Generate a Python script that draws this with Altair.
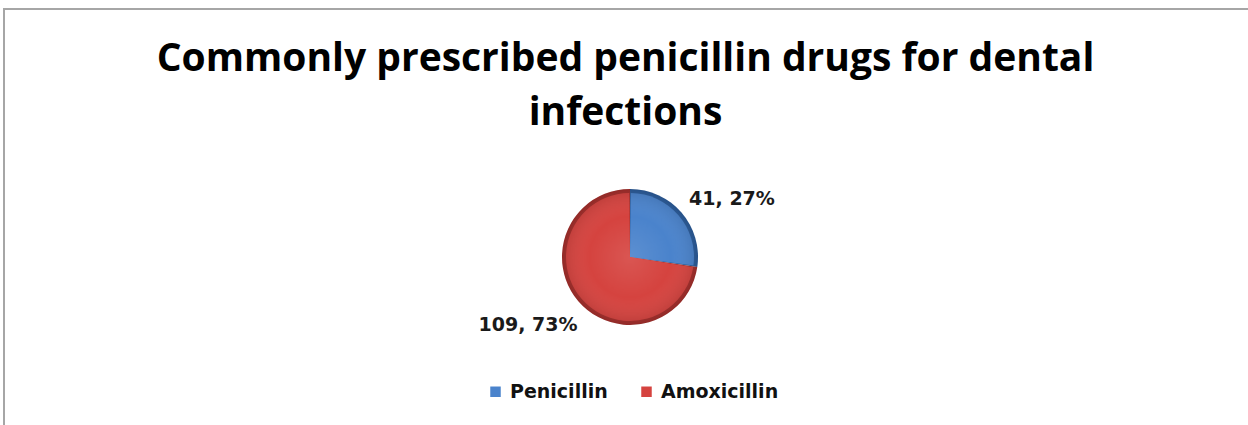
import altair as alt
import pandas as pd

# Prescription counts per drug
drugs = ["Penicillin", "Amoxicillin"]
counts = [41, 109]

face_colors = ["#4a83cc", "#d5433f"]
edge_colors = ["#2c5d9c", "#a62f2c"]

df = pd.DataFrame({"drug": drugs, "count": counts, "rank": list(range(len(drugs)))})

TEXT_FONT = "DejaVu Sans"
TITLE_FONT = "Open Sans"

# centre of the pie inside the plot area
CX, CY = 627, 249

base = alt.Chart(df).encode(
    theta=alt.Theta("count:Q", stack=True),
    order=alt.Order("rank:Q"),
    x=alt.value(CX),
    y=alt.value(CY),
)

# darker rim underneath gives the slices a bevelled edge
rim = base.mark_arc(outerRadius=68).encode(
    color=alt.Color("drug:N", scale=alt.Scale(domain=drugs, range=edge_colors), legend=None)
)

face = base.mark_arc(outerRadius=64, padAngle=0.025).encode(
    color=alt.Color(
        "drug:N",
        scale=alt.Scale(domain=drugs, range=face_colors),
        legend=alt.Legend(
            title=None,
            orient="none",
            direction="horizontal",
            legendX=483,
            legendY=374,
            symbolType="square",
            symbolSize=110,
            symbolStrokeWidth=0,
            labelFont=TEXT_FONT,
            labelFontSize=19,
            labelFontWeight="bold",
            labelColor="#111111",
            labelOffset=5,
            columnPadding=29,
        ),
    )
)

# soft radial shading over the whole disc for a rounded look
shade = (
    alt.Chart(df)
    .transform_aggregate(total="sum(count)")
    .mark_arc(
        outerRadius=68,
        fill=alt.Gradient(
            gradient="radial",
            x1=0.5, y1=0.5, r1=0,
            x2=0.5, y2=0.5, r2=0.5,
            stops=[
                alt.GradientStop(color="rgba(255,255,255,0.10)", offset=0),
                alt.GradientStop(color="rgba(255,255,255,0)", offset=0.6),
                alt.GradientStop(color="rgba(0,0,0,0.12)", offset=1),
            ],
        ),
    )
    .encode(theta=alt.value(6.2832), x=alt.value(CX), y=alt.value(CY))
)

labels = (
    base.transform_joinaggregate(total="sum(count)")
    .transform_calculate(label="datum.count + ', ' + format(datum.count / datum.total, '.0%')")
    .mark_text(
        radius=120,
        thetaOffset=0.157,
        dy=5,
        font=TEXT_FONT,
        fontSize=19,
        fontWeight="bold",
        color="#1a1a1a",
    )
    .encode(text="label:N")
)

# thin grey frame along the top and left edges
frame_top = alt.Chart(df).mark_rule(color="#a6a6a6", strokeWidth=2).encode(
    x=alt.value(0), x2=alt.value(1245), y=alt.value(1)
)
frame_left = alt.Chart(df).mark_rule(color="#a6a6a6", strokeWidth=2).encode(
    x=alt.value(1), y=alt.value(0), y2=alt.value(417)
)

chart = (
    alt.layer(frame_top, frame_left, rim, face, shade, labels)
    .resolve_scale(color="independent")
    .properties(
        width=1245,
        height=417,
        padding={"left": 3, "top": 8, "right": 0, "bottom": 0},
        autosize=alt.AutoSizeParams(type="none"),
        title=alt.TitleParams(
            ["Commonly prescribed penicillin drugs for dental", "infections"],
            font=TITLE_FONT,
            fontSize=39,
            fontWeight="bold",
            color="#000000",
            anchor="middle",
            lineHeight=54,
            baseline="alphabetic",
            offset=-157,
        ),
    )
    .configure_view(strokeWidth=0)
    .configure(background="#ffffff")
)

chart.save("out.html", embed_options={"renderer": "svg", "actions": False})
